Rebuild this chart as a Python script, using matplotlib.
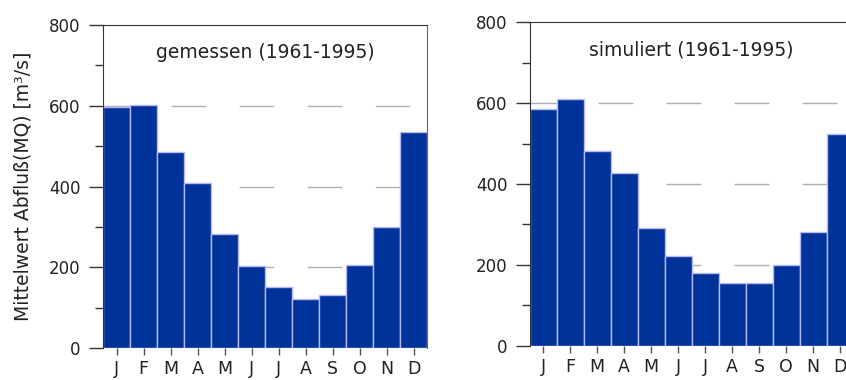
import numpy as np
import matplotlib.pyplot as plt
from matplotlib.ticker import MultipleLocator

plt.rcParams['font.family'] = 'DejaVu Sans'
plt.rcParams['font.size'] = 12

# monthly mean discharge MQ [m3/s]
months = ['J', 'F', 'M', 'A', 'M', 'J', 'J', 'A', 'S', 'O', 'N', 'D']
gemessen = [597, 602, 485, 409, 282, 202, 151, 121, 131, 205, 300, 535]
simuliert = [586, 611, 482, 427, 290, 221, 180, 154, 154, 199, 281, 523]
titles = ['gemessen (1961-1995)', 'simuliert (1961-1995)']

bar_color = '#00339a'
edge_color = '#b8b8f4'
text_color = '#222222'

fig = plt.figure(figsize=(8.46, 3.8), dpi=100)
ax1 = fig.add_axes([103 / 846, 32 / 380, 324 / 846, 323 / 380])
ax2 = fig.add_axes([529.5 / 846, 34.3 / 380, 324 / 846, 323.4 / 380])

x = np.arange(len(months))
for ax, vals, title in [(ax1, gemessen, titles[0]), (ax2, simuliert, titles[1])]:
    # dashed grid lines behind the bars
    for g in [200, 400, 600]:
        ax.axhline(g, color='#b0b0b0', lw=1, dashes=(25, 24), zorder=1)
    ax.bar(x, vals, width=1.0, color=bar_color, edgecolor=edge_color,
           linewidth=1, zorder=2)
    ax.set_xlim(-0.5, 11.5)
    ax.set_ylim(0, 800)
    ax.set_xticks(x)
    ax.set_xticklabels(months, color=text_color, fontsize=12.5)
    ax.yaxis.set_major_locator(MultipleLocator(200))
    ax.yaxis.set_minor_locator(MultipleLocator(100))
    ax.tick_params(axis='y', which='major', length=10, width=1, pad=6,
                   labelcolor=text_color, color='#333333')
    ax.tick_params(axis='y', which='minor', length=6, width=1, color='#333333')
    ax.tick_params(axis='x', length=5, width=1, pad=4, color='#555555',
                   labelcolor=text_color)
    ax.spines['bottom'].set_visible(False)
    ax.spines['left'].set_color('#333333')
    ax.spines['top'].set_color('#333333')
    ax.spines['right'].set_color('#666666')
    ax.text(0.5, 0.915, title, transform=ax.transAxes, ha='center',
            va='center', color=text_color, fontsize=13.5)

ax1.set_ylabel('Mittelwert Abfluß(MQ) [m³/s]', color=text_color, fontsize=13.5,
               labelpad=12)

fig.savefig('out.png', dpi=100)
